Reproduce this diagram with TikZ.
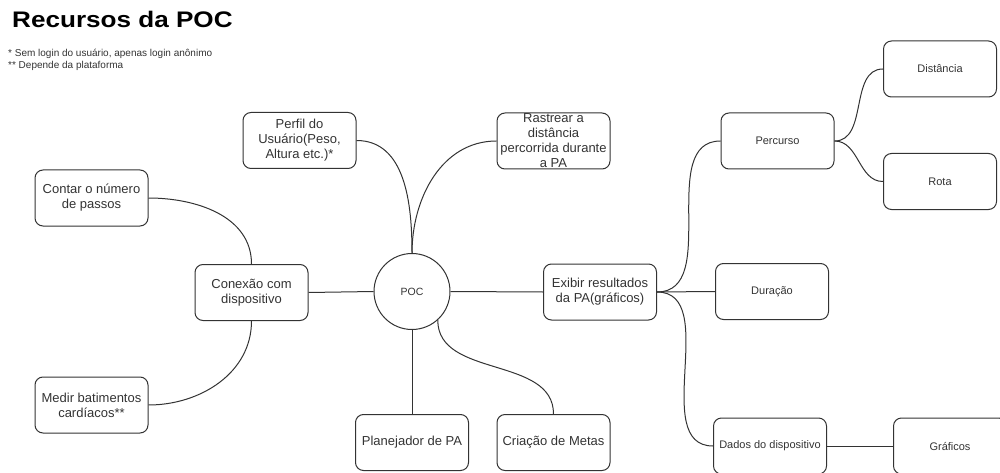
\documentclass[tikz,border=0pt]{standalone}
\usepackage{fontspec}
\setmainfont{Liberation Sans}
\usepackage{graphicx}
\definecolor{ln}{HTML}{333333}
\tikzset{
  box/.style={draw=ln, line width=1pt, rounded corners=8pt, text=ln, align=center,
    inner sep=0pt, minimum width=113pt, minimum height=56pt},
  big/.style={font=\fontsize{13}{15}\selectfont},
  small/.style={font=\fontsize{11}{13}\selectfont},
  conn/.style={draw=ln, line width=1pt},
}
\begin{document}
\begin{tikzpicture}[x=1pt,y=1pt]
\useasboundingbox (0,0) rectangle (1000,-473);
% title and notes
\node[anchor=base west, inner sep=0pt, font=\bfseries\fontsize{22.5}{26}\selectfont] (title) at (12,-27.5) {\scalebox{1.16}[1]{Recursos da POC}};
\node[anchor=base west, inner sep=0pt, font=\fontsize{10}{12}\selectfont, text=ln] (note1) at (8,-56.5) {* Sem login do usuário, apenas login anônimo};
\node[anchor=base west, inner sep=0pt, font=\fontsize{10}{12}\selectfont, text=ln] (note2) at (8,-68.5) {** Depende da plataforma};
% nodes
\node[draw=ln, line width=1pt, circle, minimum size=76pt, inner sep=0pt, text=ln, font=\fontsize{10.5}{12}\selectfont] (poc) at (412,-291.5) {POC};
\node[box, big] (perfil) at (299.5,-140.5) {Perfil do\\Usuário(Peso,\\Altura etc.)*};
\node[box, big] (rast) at (553.5,-141) {Rastrear a\\distância\\percorrida durante\\a PA};
\node[box, big] (contar) at (91.5,-198) {Contar o número\\de passos};
\node[box, big] (conex) at (251.5,-292.5) {Conexão com\\dispositivo};
\node[box, big] (medir) at (91.5,-405) {Medir batimentos\\cardíacos**};
\node[box, big] (plan) at (412,-442.5) {Planejador de PA};
\node[box, big] (cria) at (553.5,-442.5) {Criação de Metas};
\node[box, big] (exib) at (600,-292) {Exibir resultados\\da PA(gráficos)};
\node[box, small] (perc) at (777.5,-141) {Percurso};
\node[box, small] (dist) at (940,-69) {Distância};
\node[box, small] (rota) at (940,-181.5) {Rota};
\node[box, small] (dur) at (772,-291.5) {Duração};
\node[box, small] (dados) at (770,-446) {Dados do dispositivo};
\node[box, small] (graf) at (950,-446) {Gráficos};
% connectors
\draw[conn] (poc.west) -- (conex.east);
\draw[conn] (poc.east) -- (exib.west);
\draw[conn] (poc.south) -- (plan.north);
\draw[conn] (poc.-48) to[out=-90,in=90] (cria.north);
\draw[conn] (poc.north) to[out=90,in=0] (perfil.east);
\draw[conn] (poc.north) to[out=90,in=180] (rast.west);
\draw[conn] (conex.north) to[out=90,in=0] (contar.east);
\draw[conn] (conex.south) to[out=-90,in=0] (medir.east);
\draw[conn] (exib.east) to[out=0,in=180] (perc.west);
\draw[conn] (exib.east) -- (dur.west);
\draw[conn] (exib.east) to[out=0,in=180] (dados.west);
\draw[conn] (perc.east) to[out=0,in=180] (dist.west);
\draw[conn] (perc.east) to[out=0,in=180] (rota.west);
\draw[conn] (dados.east) -- (graf.west);
\end{tikzpicture}
\end{document}
